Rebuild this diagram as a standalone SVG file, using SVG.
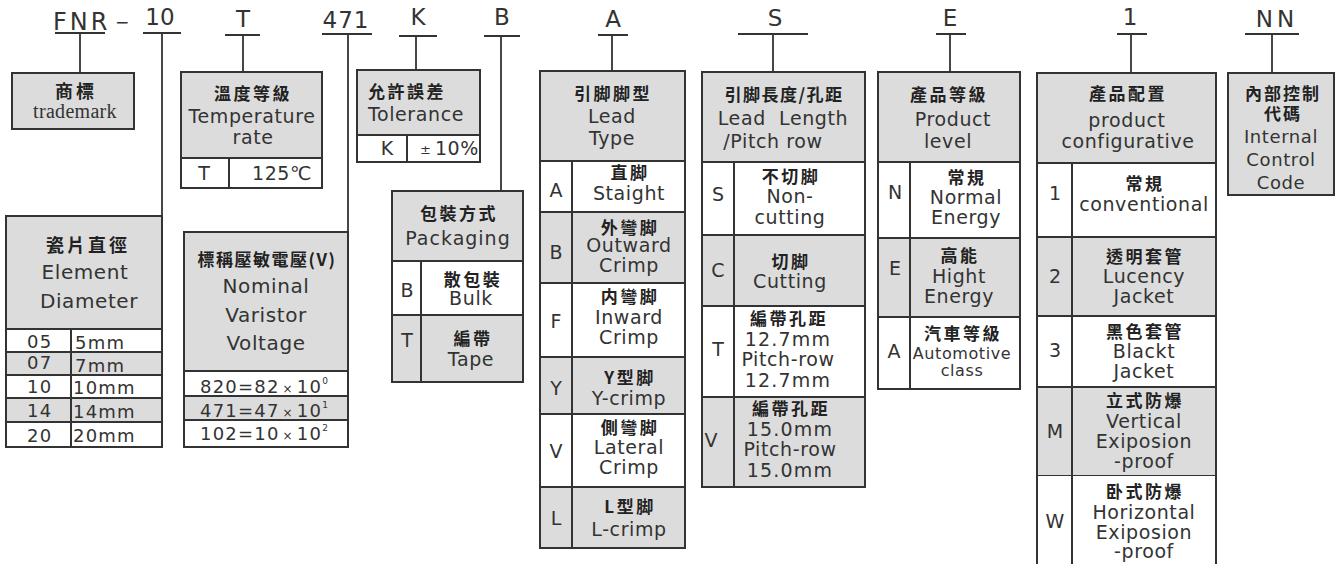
<svg xmlns="http://www.w3.org/2000/svg" width="1336" height="564" viewBox="0 0 1336 564">
<style>
.ln{stroke:#333;stroke-width:1.8;fill:none}
.bx{stroke:#333;stroke-width:2}
.g{fill:#dcdcdc}
.w{fill:#fff}
.dv{stroke:#333;stroke-width:2;fill:none}
text{fill:#333}
.cd{font-family:"DejaVu Sans",sans-serif;font-size:23px;text-anchor:middle}
.en{font-family:"DejaVu Sans",sans-serif;font-size:19px;text-anchor:middle;letter-spacing:0.6px}
.en20{font-family:"DejaVu Sans",sans-serif;font-size:20px;text-anchor:middle;letter-spacing:0.6px}
.en18{font-family:"DejaVu Sans",sans-serif;font-size:18px;text-anchor:middle;letter-spacing:0.6px}
.en16{font-family:"DejaVu Sans",sans-serif;font-size:16px;text-anchor:middle;letter-spacing:0.6px}
.rs{font-family:"DejaVu Sans",sans-serif;font-size:18px;letter-spacing:1.2px}
.lt{font-family:"DejaVu Sans",sans-serif;font-size:19px;text-anchor:middle}
.zh{font-family:"Noto Sans CJK TC","Noto Sans CJK SC",sans-serif;font-size:17px;font-weight:bold;text-anchor:middle;letter-spacing:2.5px;fill:#222}
.zh18{font-family:"Noto Sans CJK TC","Noto Sans CJK SC",sans-serif;font-size:18px;font-weight:bold;text-anchor:middle;letter-spacing:3px;fill:#222}
.sf{font-family:"Liberation Serif",serif;font-size:20px;text-anchor:middle;letter-spacing:0.3px}
</style>

<g id="codes">
<text class="cd" x="53" y="30" style="text-anchor:start;letter-spacing:3px;font-size:24px">FNR</text>
<text class="cd" x="122" y="28" style="font-size:17px">−</text>
<text class="cd" x="160" y="25">10</text>
<text class="cd" x="243" y="27">T</text>
<text class="cd" x="346" y="28" style="letter-spacing:1px">471</text>
<text class="cd" x="418" y="25">K</text>
<text class="cd" x="502" y="25">B</text>
<text class="cd" x="613" y="27">A</text>
<text class="cd" x="775" y="26">S</text>
<text class="cd" x="950" y="26">E</text>
<text class="cd" x="1130" y="25">1</text>
<text class="cd" x="1277" y="27" style="letter-spacing:4px">NN</text>
</g>

<g id="connectors" class="ln">
<path d="M55 33H105M80 33V73"/>
<path d="M143 33H181M162 33V216"/>
<path d="M225 35H260M243 35V72"/>
<path d="M322 34H372M348 34V232"/>
<path d="M399 36H437M416 36V70"/>
<path d="M484 36H520M501 36V191"/>
<path d="M598 35H628M612 35V71"/>
<path d="M738 34H808M773 34V72"/>
<path d="M936 34H966M950 34V72"/>
<path d="M1117 34H1147M1131 34V73"/>
<path d="M1245 34H1299M1272 34V73"/>
</g>

<g id="trademark">
<rect class="bx g" x="12" y="73" width="122" height="56"/>
<text class="zh18" x="76" y="98">商標</text>
<text class="sf" x="75" y="118">trademark</text>
</g>

<g id="temperature">
<rect class="bx g" x="181" y="72" width="141" height="86"/>
<rect class="bx w" x="181" y="158" width="141" height="30"/>
<path class="dv" d="M229 158V188"/>
<text class="zh" x="253" y="100">溫度等級</text>
<text class="en" x="252" y="123">Temperature</text>
<text class="en" x="253" y="144">rate</text>
<text class="lt" x="204" y="180">T</text>
<text class="en" x="282" y="180">125℃</text>
</g>

<g id="tolerance">
<rect class="bx g" x="357" y="70" width="123" height="65"/>
<rect class="bx w" x="357" y="135" width="123" height="27"/>
<path class="dv" d="M407 135V162"/>
<text class="zh" x="368" y="98" style="text-anchor:start">允許誤差</text>
<text class="en" x="368" y="121" style="text-anchor:start">Tolerance</text>
<text class="lt" x="387" y="155">K</text>
<text x="420" y="154" style="font-family:'DejaVu Sans',sans-serif;font-size:13px">±</text>
<text x="435" y="155" style="font-family:'DejaVu Sans',sans-serif;font-size:19px;letter-spacing:0.5px">10%</text>
</g>

<g id="element-diameter">
<rect class="bx g" x="6" y="216" width="156" height="113"/>
<rect class="bx w" x="6" y="329" width="156" height="23"/>
<rect class="bx g" x="6" y="352" width="156" height="23"/>
<rect class="bx w" x="6" y="375" width="156" height="23"/>
<rect class="bx g" x="6" y="398" width="156" height="24"/>
<rect class="bx w" x="6" y="422" width="156" height="25"/>
<path class="dv" d="M71 329V447"/>
<text class="zh18" x="88" y="252">瓷片直徑</text>
<text class="en20" x="85" y="279">Element</text>
<text class="en20" x="89" y="308">Diameter</text>
<text class="rs" x="27" y="348">05</text><text class="rs" x="75" y="349">5mm</text>
<text class="rs" x="27" y="369">07</text><text class="rs" x="75" y="372">7mm</text>
<text class="rs" x="27" y="393">10</text><text class="rs" x="73" y="394">10mm</text>
<text class="rs" x="27" y="417">14</text><text class="rs" x="73" y="418">14mm</text>
<text class="rs" x="27" y="442">20</text><text class="rs" x="73" y="442">20mm</text>
</g>

<g id="nominal-voltage">
<rect class="bx g" x="184" y="232" width="164" height="139"/>
<rect class="bx w" x="184" y="371" width="164" height="25"/>
<rect class="bx g" x="184" y="396" width="164" height="24"/>
<rect class="bx w" x="184" y="420" width="164" height="27"/>
<text class="zh" x="267" y="266" style="letter-spacing:1.5px">標稱壓敏電壓(V)</text>
<text class="en20" x="266" y="293">Nominal</text>
<text class="en20" x="266" y="322">Varistor</text>
<text class="en20" x="266" y="350">Voltage</text>
<text class="rs" x="200" y="393">820=82<tspan font-size="12" dx="3">×</tspan><tspan dx="3">10</tspan><tspan font-size="9" dy="-9">0</tspan></text>
<text class="rs" x="200" y="417">471=47<tspan font-size="12" dx="3">×</tspan><tspan dx="3">10</tspan><tspan font-size="9" dy="-9">1</tspan></text>
<text class="rs" x="200" y="440">102=10<tspan font-size="12" dx="3">×</tspan><tspan dx="3">10</tspan><tspan font-size="9" dy="-9">2</tspan></text>
</g>

<g id="packaging">
<rect class="bx g" x="392" y="191" width="131" height="70"/>
<rect class="bx w" x="392" y="261" width="131" height="54"/>
<rect class="bx g" x="392" y="315" width="131" height="67"/>
<path class="dv" d="M421 261V382"/>
<text class="zh" x="459" y="220">包裝方式</text>
<text class="en" x="458" y="245" style="letter-spacing:1px">Packaging</text>
<text class="lt" x="407" y="297">B</text>
<text class="zh" x="473" y="286">散包裝</text>
<text class="en" x="471" y="305">Bulk</text>
<text class="lt" x="407" y="347">T</text>
<text class="zh" x="473" y="345">編帶</text>
<text class="en" x="471" y="366">Tape</text>
</g>

<g id="lead-type">
<rect class="bx g" x="540" y="71" width="145" height="90"/>
<rect class="bx w" x="540" y="161" width="145" height="51"/>
<rect class="bx g" x="540" y="212" width="145" height="71"/>
<rect class="bx w" x="540" y="283" width="145" height="74"/>
<rect class="bx g" x="540" y="357" width="145" height="57"/>
<rect class="bx w" x="540" y="414" width="145" height="73"/>
<rect class="bx g" x="540" y="487" width="145" height="61"/>
<path class="dv" d="M572 161V548"/>
<text class="zh" x="613" y="100">引脚脚型</text>
<text class="en" x="612" y="123">Lead</text>
<text class="en" x="612" y="145">Type</text>
<text class="lt" x="556" y="197">A</text>
<text class="zh" x="630" y="179">直脚</text>
<text class="en" x="629" y="200">Staight</text>
<text class="lt" x="556" y="259">B</text>
<text class="zh" x="630" y="234">外彎脚</text>
<text class="en" x="629" y="252">Outward</text>
<text class="en" x="629" y="272">Crimp</text>
<text class="lt" x="556" y="328">F</text>
<text class="zh" x="630" y="303">内彎脚</text>
<text class="en" x="629" y="324">Inward</text>
<text class="en" x="629" y="344">Crimp</text>
<text class="lt" x="556" y="395">Y</text>
<text class="zh" x="630" y="384">Y型脚</text>
<text class="en" x="629" y="405">Y-crimp</text>
<text class="lt" x="556" y="458">V</text>
<text class="zh" x="630" y="434">側彎脚</text>
<text class="en" x="629" y="454">Lateral</text>
<text class="en" x="629" y="474">Crimp</text>
<text class="lt" x="556" y="525">L</text>
<text class="zh" x="630" y="513">L型脚</text>
<text class="en" x="629" y="536">L-crimp</text>
</g>

<g id="lead-length">
<rect class="bx g" x="702" y="72" width="163" height="90"/>
<rect class="bx w" x="702" y="162" width="163" height="73"/>
<rect class="bx g" x="702" y="235" width="163" height="71"/>
<rect class="bx w" x="702" y="306" width="163" height="91"/>
<rect class="bx g" x="702" y="397" width="163" height="90"/>
<path class="dv" d="M734 162V487"/>
<text class="zh" x="784" y="101" style="letter-spacing:1.5px">引脚長度/孔距</text>
<text class="en" x="783" y="125" style="white-space:pre">Lead  Length</text>
<text class="en" x="773" y="148">/Pitch row</text>
<text class="lt" x="718" y="201">S</text>
<text class="zh" x="791" y="183">不切脚</text>
<text class="en" x="790" y="203">Non-</text>
<text class="en" x="790" y="224">cutting</text>
<text class="lt" x="718" y="277">C</text>
<text class="zh" x="791" y="268">切脚</text>
<text class="en" x="790" y="288">Cutting</text>
<text class="lt" x="718" y="356">T</text>
<text class="zh" x="789" y="325">編帶孔距</text>
<text class="en" x="788" y="346" style="letter-spacing:1.2px">12.7mm</text>
<text class="en" x="788" y="366">Pitch-row</text>
<text class="en" x="788" y="387" style="letter-spacing:1.2px">12.7mm</text>
<text class="lt" x="711" y="447">V</text>
<text class="zh" x="791" y="415">編帶孔距</text>
<text class="en" x="790" y="436" style="letter-spacing:1.2px">15.0mm</text>
<text class="en" x="790" y="456">Pitch-row</text>
<text class="en" x="790" y="477" style="letter-spacing:1.2px">15.0mm</text>
</g>

<g id="product-level">
<rect class="bx g" x="878" y="72" width="142" height="90"/>
<rect class="bx w" x="878" y="162" width="142" height="76"/>
<rect class="bx g" x="878" y="238" width="142" height="79"/>
<rect class="bx w" x="878" y="317" width="142" height="72"/>
<path class="dv" d="M910 162V389"/>
<text class="zh" x="949" y="101">產品等級</text>
<text class="en" x="953" y="126">Product</text>
<text class="en" x="948" y="148">level</text>
<text class="lt" x="895" y="199">N</text>
<text class="zh" x="967" y="184">常規</text>
<text class="en" x="966" y="204">Normal</text>
<text class="en" x="966" y="224">Energy</text>
<text class="lt" x="895" y="275">E</text>
<text class="zh" x="960" y="262">高能</text>
<text class="en" x="959" y="283">Hight</text>
<text class="en" x="959" y="303">Energy</text>
<text class="lt" x="894" y="358">A</text>
<text class="zh" x="963" y="340">汽車等級</text>
<text class="en16" x="962" y="359">Automotive</text>
<text class="en16" x="962" y="376">class</text>
</g>

<g id="product-config">
<rect class="bx g" x="1037" y="73" width="179" height="90"/>
<rect class="bx w" x="1037" y="163" width="179" height="74"/>
<rect class="bx g" x="1037" y="237" width="179" height="79"/>
<rect class="bx w" x="1037" y="316" width="179" height="71"/>
<rect class="bx g" x="1037" y="387" width="179" height="89"/>
<rect class="w" x="1037" y="476" width="179" height="90"/>
<path class="dv" d="M1037 476V566M1216 476V566M1072 163V566"/>
<text class="zh" x="1128" y="100">產品配置</text>
<text class="en" x="1127" y="127">product</text>
<text class="en" x="1128" y="148">configurative</text>
<text class="lt" x="1055" y="200">1</text>
<text class="zh" x="1145" y="190">常規</text>
<text class="en" x="1144" y="211">conventional</text>
<text class="lt" x="1055" y="283">2</text>
<text class="zh" x="1145" y="263">透明套管</text>
<text class="en" x="1144" y="283">Lucency</text>
<text class="en" x="1144" y="303">Jacket</text>
<text class="lt" x="1055" y="357">3</text>
<text class="zh" x="1145" y="338">黑色套管</text>
<text class="en" x="1144" y="358">Blackt</text>
<text class="en" x="1144" y="378">Jacket</text>
<text class="lt" x="1055" y="438">M</text>
<text class="zh" x="1145" y="407">立式防爆</text>
<text class="en" x="1144" y="428">Vertical</text>
<text class="en" x="1144" y="448">Exiposion</text>
<text class="en" x="1144" y="468">-proof</text>
<text class="lt" x="1055" y="528">W</text>
<text class="zh" x="1145" y="498">卧式防爆</text>
<text class="en" x="1144" y="519">Horizontal</text>
<text class="en" x="1144" y="539">Exiposion</text>
<text class="en" x="1144" y="558">-proof</text>
</g>

<g id="internal-code">
<rect class="bx g" x="1228" y="73" width="106" height="122"/>
<text class="zh" x="1283" y="100" style="letter-spacing:2px">內部控制</text>
<text class="zh" x="1283" y="120" style="letter-spacing:2px">代碼</text>
<text class="en18" x="1281" y="143">Internal</text>
<text class="en18" x="1281" y="166">Control</text>
<text class="en18" x="1281" y="189">Code</text>
</g>
</svg>
